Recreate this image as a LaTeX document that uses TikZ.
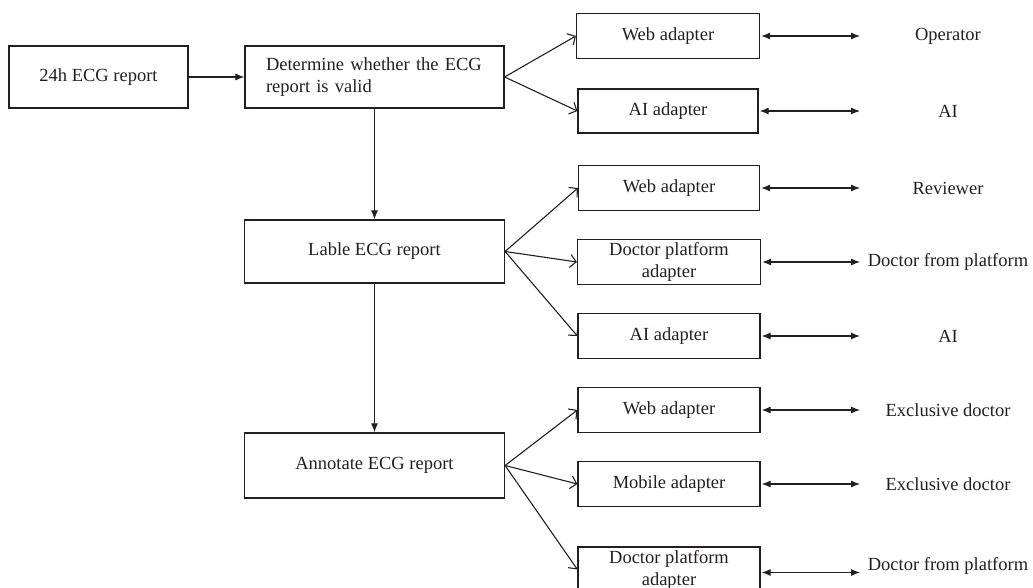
\documentclass[tikz,border=0pt]{standalone}
\usepackage{fontspec}
\setmainfont{Liberation Serif}
\usetikzlibrary{arrows.meta}
\definecolor{ink}{HTML}{231F20}
\tikzset{
  box/.style={draw=ink, line width=1.2pt, text=ink, align=center, inner sep=2pt,
    font=\fontsize{18.5}{22}\selectfont},
  lbl/.style={text=ink, font=\fontsize{18.5}{22}\selectfont, inner sep=0pt},
  main/.style={draw=ink, line width=1.1pt, -{Latex[length=9pt,width=7pt]}},
  fan/.style={draw=ink, line width=1.1pt, -{Straight Barb[length=6pt,width=13pt,line width=1.1pt]}},
  dbl/.style={draw=ink, line width=1.1pt, {Latex[length=9pt,width=7pt]}-{Latex[length=9pt,width=7pt]}}
}
\begin{document}
\begin{tikzpicture}[x=1pt,y=-1pt]
\useasboundingbox (0,0) rectangle (1033,588);
% left column
\node[box, minimum width=179pt, minimum height=62pt] (r24) at (98.5,77) {24h ECG report};
\node[box, minimum width=259pt, minimum height=62pt, text width=217pt, align=left] (det) at (374.5,77) {Determine whether the ECG\\report is valid};
\node[box, minimum width=260pt, minimum height=63pt] (lab) at (374.5,251.5) {Lable ECG report};
\node[box, minimum width=260pt, minimum height=65pt] (ann) at (374.5,465.5) {Annotate ECG report};
% adapters
\node[box, minimum width=183pt, minimum height=45pt] (w1) at (668,36) {Web adapter};
\node[box, minimum width=180pt, minimum height=44pt] (ai1) at (668,111) {AI adapter};
\node[box, minimum width=181pt, minimum height=45pt] (w2) at (669,188) {Web adapter};
\node[box, minimum width=183pt, minimum height=45pt] (dp2) at (669,262) {Doctor platform\\adapter};
\node[box, minimum width=182pt, minimum height=45pt] (ai2) at (669,336) {AI adapter};
\node[box, minimum width=182pt, minimum height=45pt] (w3) at (669,410) {Web adapter};
\node[box, minimum width=182pt, minimum height=45pt] (mob) at (669,484) {Mobile adapter};
\node[box, minimum width=182pt, minimum height=45pt] (dp3) at (669,569.5) {Doctor platform\\adapter};
% labels
\node[lbl] (l1) at (948,36) {Operator};
\node[lbl] (l2) at (948,111) {AI};
\node[lbl] (l3) at (948,188) {Reviewer};
\node[lbl] (l4) at (948,262) {Doctor from platform};
\node[lbl] (l5) at (948,336) {AI};
\node[lbl] (l6) at (948,410) {Exclusive doctor};
\node[lbl] (l7) at (948,484) {Exclusive doctor};
\node[lbl] (l8) at (948,566) {Doctor from platform};
\coordinate (rcol) at (859,0);
% main flow
\draw[main] (r24.east) -- (det.west);
\draw[main] (det.south) -- (lab.north);
\draw[main] (lab.south) -- (ann.north);
% fans
\draw[fan] (det.east) -- (w1.west);
\draw[fan] (det.east) -- (ai1.west);
\draw[fan] (lab.east) -- (w2.west);
\draw[fan] (lab.east) -- (dp2.west);
\draw[fan] (lab.east) -- (ai2.west);
\draw[fan] (ann.east) -- (w3.west);
\draw[fan] (ann.east) -- (mob.west);
\draw[fan] (ann.east) -- (dp3.west);
% double arrows
\foreach \b in {w1,ai1,w2,dp2,ai2,w3,mob}{
  \draw[dbl] ([xshift=1pt]\b.east) -- ([xshift=1pt]\b.east -| rcol);
}
\draw[dbl] ([xshift=1pt,yshift=-3pt]dp3.east) -- ([xshift=1pt,yshift=-3pt]dp3.east -| rcol);
\end{tikzpicture}
\end{document}
